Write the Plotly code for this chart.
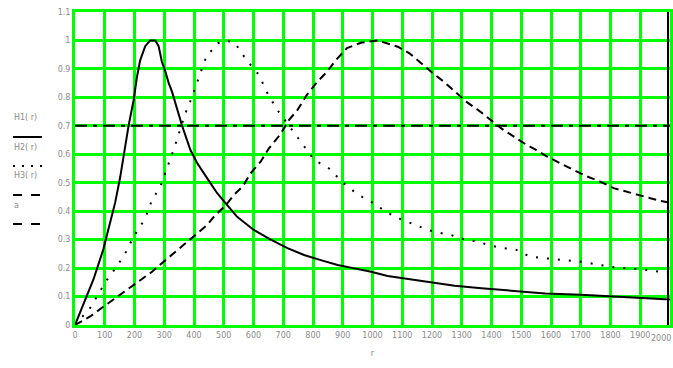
import plotly.graph_objects as go

# ---- data ----
r1 = [0, 28, 62, 95, 118, 135, 152, 169, 180, 197, 208, 219, 236, 253, 270, 281, 292, 304, 315, 326,
      337, 349, 360, 388, 410, 444, 478, 506, 545, 601, 658, 714, 770, 826, 883, 939, 995, 1051,
      1107, 1208, 1276, 1366, 1478, 1580, 1700, 1800, 1928, 2000]
h1 = [0, 0.075, 0.16, 0.265, 0.36, 0.43, 0.52, 0.63, 0.70, 0.79, 0.87, 0.93, 0.98, 1.0, 1.0, 0.98,
      0.925, 0.89, 0.85, 0.82, 0.78, 0.74, 0.70, 0.615, 0.57, 0.516, 0.463, 0.428, 0.38, 0.334, 0.30,
      0.27, 0.246, 0.228, 0.211, 0.199, 0.187, 0.172, 0.164, 0.149, 0.138, 0.129, 0.12, 0.111, 0.106,
      0.101, 0.092, 0.09]

r2 = [0, 51, 79, 107, 140, 169, 197, 236, 259, 287, 315, 337, 371, 393, 422, 444, 464, 480, 506, 540,
      551, 579, 618, 649, 680, 697, 759, 804, 854, 903, 942, 980, 1004, 1049, 1088, 1138, 1186, 1214,
      1265, 1293, 1343, 1422, 1484, 1529, 1617, 1703, 1754, 1812, 1930, 1993]
h2 = [0, 0.06, 0.11, 0.158, 0.205, 0.252, 0.31, 0.375, 0.44, 0.486, 0.568, 0.633, 0.744, 0.80, 0.887,
      0.95, 0.969, 0.99, 1.0, 0.99, 0.969, 0.928, 0.879, 0.81, 0.756, 0.732, 0.644, 0.58, 0.55, 0.498,
      0.466, 0.44, 0.428, 0.395, 0.375, 0.354, 0.334, 0.326, 0.316, 0.305, 0.295, 0.273, 0.264, 0.24,
      0.231, 0.222, 0.213, 0.203, 0.193, 0.182]

r3 = [0, 51, 95, 135, 180, 219, 259, 292, 332, 371, 410, 444, 472, 506, 534, 565, 590, 624, 652, 689,
      719, 748, 779, 815, 847, 877, 914, 961, 1017, 1046, 1085, 1124, 1169, 1203, 1240, 1279, 1315,
      1362, 1397, 1433, 1478, 1518, 1551, 1587, 1632, 1681, 1714, 1765, 1813, 1863, 1911, 1967, 2000]
h3 = [0, 0.03, 0.064, 0.094, 0.129, 0.158, 0.187, 0.217, 0.252, 0.287, 0.322, 0.351, 0.387, 0.42,
      0.457, 0.489, 0.533, 0.574, 0.621, 0.668, 0.72, 0.756, 0.808, 0.855, 0.89, 0.931, 0.973, 0.992,
      1.0, 0.99, 0.978, 0.955, 0.914, 0.885, 0.855, 0.82, 0.785, 0.75, 0.72, 0.691, 0.66, 0.633, 0.615,
      0.592, 0.568, 0.542, 0.525, 0.504, 0.48, 0.466, 0.451, 0.436, 0.43]

ra = [0, 2000]
a_val = [0.7, 0.7]

legend_labels = ["H1( r)", "H2( r)", "H3( r)", "a"]
x_ticks = list(range(0, 2001, 100))
y_ticks = [round(i * 0.1, 1) for i in range(12)]

GREEN = "#00ff00"
TXT = "#8c8c8c"
FONT = "DejaVu Sans"

W, H = 673, 368
L, R, T, B = 75, 3, 12, 43
PW, PH = W - L - R, H - T - B


def px(xp):
    return (xp - L) / PW


def py(yp):
    return (H - B - yp) / PH


fig = go.Figure()
fig.add_trace(go.Scatter(x=r1, y=h1, mode="lines", line=dict(color="black", width=2)))
fig.add_trace(go.Scatter(x=r2, y=h2, mode="lines", line=dict(color="black", width=2, dash="2px,9px")))
fig.add_trace(go.Scatter(x=r3, y=h3, mode="lines", line=dict(color="black", width=2, dash="8px,5px")))
fig.add_trace(go.Scatter(x=ra, y=a_val, mode="lines",
                         line=dict(color="black", width=2, dash="12px,6px,4px,6px")))

axis_common = dict(showgrid=True, gridcolor=GREEN, gridwidth=3, zeroline=True, zerolinecolor=GREEN,
                   zerolinewidth=3, showline=True, linecolor=GREEN, linewidth=3, mirror=True,
                   ticks="", automargin=False,
                   tickfont=dict(family=FONT, size=8, color=TXT))

x_text = [str(v) if v < 2000 else "" for v in x_ticks]

fig.update_layout(
    width=W, height=H,
    margin=dict(l=L, r=R, t=T, b=B),
    paper_bgcolor="white", plot_bgcolor="white",
    showlegend=False,
    xaxis=dict(range=[0, 2000], tickvals=x_ticks, ticktext=x_text,
               title=dict(text="r", font=dict(family=FONT, size=8, color=TXT), standoff=12),
               **axis_common),
    yaxis=dict(range=[0, 1.1], tickvals=y_ticks, ticktext=[f"{v:g}" for v in y_ticks],
               **axis_common),
)

# last x tick label, kept inside the figure edge
fig.add_annotation(x=(W - L) / PW, y=py(338), xref="paper", yref="paper", text=str(x_ticks[-1]),
                   showarrow=False, xanchor="right", yanchor="middle",
                   font=dict(family=FONT, size=8, color=TXT))

# black frame line at right edge (as in the reference)
fig.add_shape(type="line", xref="paper", yref="paper", x0=px(668), x1=px(668), y0=0, y1=1,
              line=dict(color="black", width=2))

# Mathcad-style legend on the left: label above line sample
label_y = [118, 147, 176, 205]
sample_y = [137, 166, 195, 224]
dashes = ["solid", "2px,7px", "9px,9px", "9px,9px"]
for lab, ly, sy, d in zip(legend_labels, label_y, sample_y, dashes):
    fig.add_annotation(x=px(12), y=py(ly), xref="paper", yref="paper",
                       text=lab, showarrow=False, xanchor="left", yanchor="middle",
                       font=dict(family=FONT, size=8, color=TXT))
    fig.add_shape(type="line", xref="paper", yref="paper",
                  x0=px(13), x1=px(42), y0=py(sy), y1=py(sy),
                  line=dict(color="black", width=2, dash=d))

fig.write_html("out.html", config={"displayModeBar": False},
               post_script="document.body.style.margin='0';document.body.style.overflow='hidden';")
